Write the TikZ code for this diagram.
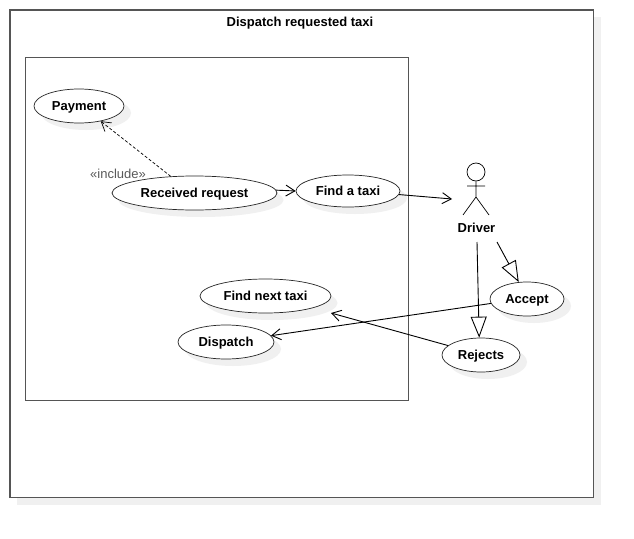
\documentclass[tikz,border=0pt]{standalone}
\usepackage{fontspec}
\setmainfont{Liberation Sans}
\usetikzlibrary{arrows.meta,shapes.geometric}
\definecolor{shadowgray}{HTML}{F0F0F0}
\definecolor{framegray}{HTML}{555555}
\tikzset{
  usecase/.style={ellipse,draw=black!85,fill=white,line width=0.7pt,minimum width=#1,inner sep=0pt,text height=9.4pt,text depth=1.4pt,font=\fontsize{13}{15}\selectfont\bfseries},
  frameline/.style={draw=framegray,line width=1.2pt},
  shadowbox/.style={fill=shadowgray,draw=none},
  conn/.style={draw=black,line width=0.9pt},
  openarrow/.style={conn,-{Straight Barb[length=9pt,width=11pt,line width=0.9pt]}},
  genarrow/.style={conn,-{Triangle[open,fill=white,length=21pt,width=16pt,line width=0.9pt]}},
  incl/.style={draw=black,line width=0.7pt,dash pattern=on 3pt off 2pt,-{Straight Barb[length=9pt,width=11pt,line width=0.7pt]}},
  lbl/.style={inner sep=0pt,text height=9.4pt,text depth=1.4pt,font=\fontsize{13}{15}\selectfont\bfseries},
}
\begin{document}
\begin{tikzpicture}[x=1pt,y=-1pt]
\useasboundingbox (0,0) rectangle (634,538);
\fill[white] (0,0) rectangle (634,538);
% outer frame
\fill[shadowbox] (17,17) rectangle (601,505);
\draw[frameline,fill=white] (10,10) rectangle (593.7,497.7);
\node[lbl] (title) at (300,22.5) {Dispatch requested taxi};
% inner frame
\draw[frameline,fill=white] (25.7,57.7) rectangle (408.7,400.7);
% shadows of ellipses
\foreach \cx/\cy/\rx/\ry in {79/106/45/17,194/193/82.5/17,348/191/52/16,527/299/37/17,481/355/39/17,265/296/65.5/17,226/342/48/17}{
  \fill[shadowgray] (\cx+7,\cy+7) ellipse [x radius=\rx, y radius=\ry];
}
% use cases
\node[usecase=90pt,minimum height=34pt] (payment) at (79,106) {Payment};
\node[usecase=165pt,minimum height=34pt] (received) at (194.5,193) {Received request};
\node[usecase=104pt,minimum height=32pt] (findtaxi) at (348,191) {Find a taxi};
\node[usecase=74pt,minimum height=34pt] (accept) at (527,299) {Accept};
\node[usecase=78pt,minimum height=34pt] (rejects) at (481,355) {Rejects};
\node[usecase=131pt,minimum height=34pt] (findnext) at (265.5,296) {Find next taxi};
\node[usecase=96pt,minimum height=34pt] (dispatch) at (226,342) {Dispatch};
% actor
\node[circle,draw=black,line width=0.7pt,minimum size=18pt,inner sep=0pt] (head) at (476,172) {};
\coordinate (hip) at (476,197);
\coordinate (armL) at (467,186);
\coordinate (armR) at (485,186);
\coordinate (legL) at (463,215);
\coordinate (legR) at (489,215);
\draw[conn,line width=0.7pt] (head.south) -- (hip) (armL) -- (armR) (legL) -- (hip) -- (legR);
\node[lbl] (driver) at (476.5,228.5) {Driver};
\coordinate (actorIn) at (452,199);
\coordinate (driverA) at (497,242);
\coordinate (driverR) at (477,242);
\coordinate (nextEnd) at (331,313);
% connectors
\draw[incl] (received.145) -- (payment.-35);
\node[inner sep=0pt,text=black!65,font=\fontsize{13}{15}\selectfont] (include) at (118,173.5) {«include»};
\draw[openarrow] (received.2) -- (findtaxi.180);
\draw[openarrow] (findtaxi.-4) -- (actorIn);
\draw[genarrow] (driverA) -- (accept.116);
\draw[genarrow] (driverR) -- (rejects.96);
\draw[openarrow] (accept.187) -- (dispatch.8);
\draw[openarrow] (rejects.164) -- (nextEnd);
\end{tikzpicture}
\end{document}
